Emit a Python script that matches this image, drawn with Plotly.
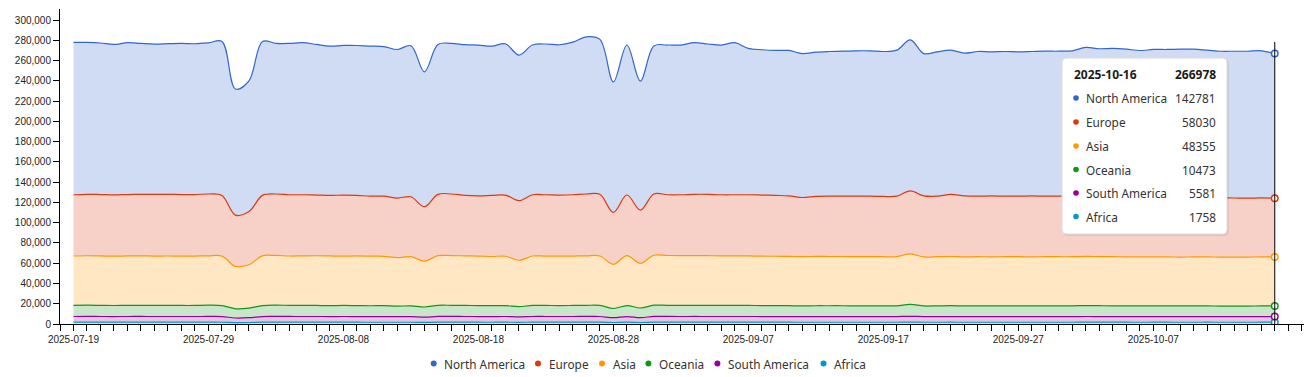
import numpy as np
import pandas as pd
import plotly.graph_objects as go

dates = pd.date_range("2025-07-19", periods=90, freq="D")

north_america = [150400,150000,149600,148500,149900,149100,148400,148700,149200,148900,
 149200,152000,124500,129000,152000,148700,149400,150100,148700,147400,
 147700,148000,148100,147700,146700,149100,133200,148000,148700,148800,
 148800,147400,149400,143800,147800,148800,148400,150700,155200,153000,
 128800,148100,127300,146200,147800,147800,149700,148400,147800,150100,
 144500,143500,143100,143500,142100,142500,142800,143100,143500,143500,
 143100,144100,149000,140500,142500,142400,140900,142800,142300,142800,
 142500,142600,143100,143100,143500,146600,145500,146100,145600,144600,
 145600,145800,146400,146600,145600,144800,144900,145000,145300,142781]

europe = [60500,60700,60600,60500,60600,60600,60900,60900,60800,60800,
 61000,60000,50700,52500,59700,60700,60500,60400,59900,59800,
 60300,59800,59300,59400,58800,59100,53800,60600,60800,59700,
 59500,60300,60400,58800,60500,60600,60300,60500,61000,60900,
 51300,59900,52600,60500,60000,60100,60500,60600,60300,60300,
 60400,60300,60100,59800,58400,59200,59600,59600,59700,59700,
 59500,59700,62200,60300,59800,61300,60200,59800,60100,59800,
 59800,60100,59800,59800,59800,59800,59700,59500,59400,59200,
 59100,59000,58800,58500,58500,58400,58300,58200,58200,58030]

asia = [48700,48800,48800,48700,48800,48900,48800,48700,48700,48700,
 48800,48800,41800,42900,49100,49100,48700,48800,49100,49000,
 48700,49000,48900,48800,47900,48600,45200,49000,49100,49000,
 48900,48600,48700,45700,48800,48700,48800,48800,48900,48800,
 43600,49300,44100,49300,49200,49200,49100,49000,49000,49000,
 48900,48800,48700,48700,48600,48700,48600,48600,48600,48600,
 48500,48600,49900,48400,48500,48600,48500,48500,48500,48500,
 48500,48500,48500,48500,48500,48500,48500,48500,48400,48400,
 48500,48400,48300,48400,48400,48400,48400,48400,48400,48355]

oceania = [11000,11100,11000,10900,11000,11000,10900,11000,10900,10900,
 11100,10800,9100,9400,10800,11100,11000,11000,10900,10800,
 10900,10800,10700,10700,10400,10600,10000,11000,11000,10900,
 10800,10700,10800,10200,10900,10900,10800,10900,11000,10900,
 9100,10800,9500,11100,11000,10900,11000,11000,10900,10900,
 10900,10800,10800,10700,10600,10700,10700,10700,10600,10600,
 10600,10600,11700,10500,10600,10700,10500,10600,10500,10600,
 10600,10500,10600,10600,10600,10800,10700,10600,10600,10500,
 10500,10500,10500,10500,10500,10400,10400,10400,10500,10473]

south_america = [5650,5680,5650,5620,5650,5660,5640,5650,5630,5640,
 5670,5600,4500,4700,5620,5680,5660,5650,5630,5610,
 5630,5610,5590,5600,5500,5560,5200,5660,5670,5640,
 5620,5600,5630,5350,5640,5650,5630,5640,5670,5650,
 4700,5620,4800,5680,5660,5640,5660,5650,5640,5640,
 5640,5620,5610,5600,5560,5590,5590,5590,5580,5580,
 5580,5590,5800,5560,5580,5600,5560,5580,5570,5580,
 5580,5570,5580,5580,5580,5620,5600,5590,5590,5570,
 5580,5580,5570,5570,5580,5560,5560,5560,5570,5581]

africa = [1770,1780,1770,1760,1770,1770,1770,1770,1760,1760,
 1780,1750,1420,1500,1760,1780,1770,1770,1760,1760,
 1760,1760,1750,1750,1720,1740,1600,1770,1780,1770,
 1760,1750,1760,1680,1770,1770,1760,1770,1780,1770,
 1500,1760,1500,1780,1770,1770,1770,1770,1770,1770,
 1770,1760,1760,1760,1740,1750,1750,1750,1750,1750,
 1750,1750,1820,1740,1750,1760,1740,1750,1750,1750,
 1750,1750,1750,1750,1750,1770,1760,1760,1760,1750,
 1760,1760,1750,1750,1760,1750,1750,1750,1760,1758]

series_names = ["North America", "Europe", "Asia", "Oceania", "South America", "Africa"]
series_values = [north_america, europe, asia, oceania, south_america, africa]
colors = ["#3366cc", "#dc3912", "#ff9900", "#109618", "#990099", "#0099c6"]

def rgba(hexc, a):
    h = hexc.lstrip("#")
    return f"rgba({int(h[0:2],16)},{int(h[2:4],16)},{int(h[4:6],16)},{a})"

FONT = "Noto Sans"
TICKFONT = "Liberation Sans, Arial"
fig = go.Figure()

# stacked areas (bottom series first)
for name, vals, col in reversed(list(zip(series_names, series_values, colors))):
    fig.add_trace(go.Scatter(
        x=dates, y=vals, name=name, stackgroup="one", mode="lines",
        line=dict(color=col, width=1.2, shape="spline", smoothing=1),
        fillcolor=rgba(col, 0.23), showlegend=False, hoverinfo="skip"))

# hollow markers on the stacked boundaries at the last date
last_vals = np.array([v[-1] for v in reversed(series_values)])
cum = np.cumsum(last_vals)
for yv, col in zip(cum, list(reversed(colors))):
    fig.add_trace(go.Scatter(
        x=[dates[-1]], y=[yv], mode="markers", showlegend=False, hoverinfo="skip",
        marker=dict(size=6.5, color="white", line=dict(color=col, width=1.5))))

# pixel -> paper helpers (plot area: left 60, width 1244, top 9, height 315)
L, W, T, H = 60, 1244, 9, 315
def px(x): return (x - L) / W
def py(y): return (T + H - y) / H

shapes = []
annotations = []

# crosshair at the hovered date
shapes.append(dict(type="line", xref="x", yref="paper", x0=dates[-1], x1=dates[-1],
                   y0=0, y1=py(42), line=dict(color="black", width=1), layer="above"))

def rounded(x0, y0, x1, y1, r=4):
    rx, ry = r / W, r / H
    X0, X1 = px(x0), px(x1)
    Y0, Y1 = py(y0), py(y1)
    return (f"M {X0+rx},{Y0} L {X1-rx},{Y0} Q {X1},{Y0} {X1},{Y0-ry} "
            f"L {X1},{Y1+ry} Q {X1},{Y1} {X1-rx},{Y1} L {X0+rx},{Y1} "
            f"Q {X0},{Y1} {X0},{Y1+ry} L {X0},{Y0-ry} Q {X0},{Y0} {X0+rx},{Y0} Z")

# tooltip box
shapes.append(dict(type="path", xref="paper", yref="paper", path=rounded(1063, 59, 1229, 236, 5),
                   fillcolor="rgba(0,0,0,0.07)", line=dict(width=0), layer="above"))
shapes.append(dict(type="path", xref="paper", yref="paper", path=rounded(1062, 58, 1227, 234, 4),
                   fillcolor="white", line=dict(color="#dcdcdc", width=1), layer="above"))

last_date = dates[-1].strftime("%Y-%m-%d")
total = int(sum(v[-1] for v in series_values))
annotations.append(dict(xref="paper", yref="paper", x=px(1072), y=py(74), text=f"<b>{last_date}</b>",
                        showarrow=False, xanchor="left", yanchor="middle",
                        font=dict(family=FONT, size=12, color="#1a1a1a")))
annotations.append(dict(xref="paper", yref="paper", x=px(1218), y=py(74), text=f"<b>{total}</b>",
                        showarrow=False, xanchor="right", yanchor="middle",
                        font=dict(family=FONT, size=12, color="#1a1a1a")))
row_y = [98, 122, 146, 169.5, 193, 216.5]
for ry_, name, vals, col in zip(row_y, series_names, series_values, colors):
    shapes.append(dict(type="circle", xref="paper", yref="paper", xsizemode="pixel", ysizemode="pixel",
                       xanchor=px(1076), yanchor=py(ry_), x0=-2.8, x1=2.8, y0=-2.8, y1=2.8,
                       fillcolor=col, line=dict(width=0), layer="above"))
    annotations.append(dict(xref="paper", yref="paper", x=px(1084), y=py(ry_), text=name,
                            showarrow=False, xanchor="left", yanchor="middle",
                            font=dict(family=FONT, size=11.8, color="#333")))
    annotations.append(dict(xref="paper", yref="paper", x=px(1218), y=py(ry_), text=str(vals[-1]),
                            showarrow=False, xanchor="right", yanchor="middle",
                            font=dict(family=FONT, size=11.8, color="#333")))

# legend (dot + label) below the axis
legend_dot_x = [433.7, 538.0, 602.0, 648.4, 717.4, 823.5]
LEGEND_Y = 363.5
for lx, name, col in zip(legend_dot_x, series_names, colors):
    shapes.append(dict(type="circle", xref="paper", yref="paper", xsizemode="pixel", ysizemode="pixel",
                       xanchor=px(lx), yanchor=py(LEGEND_Y), x0=-3, x1=3, y0=-3, y1=3,
                       fillcolor=col, line=dict(width=0), layer="above"))
    annotations.append(dict(xref="paper", yref="paper", x=px(lx + 8.5), y=py(LEGEND_Y), text=name,
                            showarrow=False, xanchor="left", yanchor="middle",
                            font=dict(family=FONT, size=11.8, color="#333")))

fig.update_layout(
    width=1311, height=377,
    margin=dict(l=L, r=1311 - L - W, t=T, b=377 - T - H, autoexpand=False),
    paper_bgcolor="white", plot_bgcolor="white",
    font=dict(family=TICKFONT, size=10, color="#222"),
    showlegend=False,
    shapes=shapes, annotations=annotations, hovermode=False,
)

fig.update_xaxes(
    type="date", range=["2025-07-18 00:00", "2025-10-18 04:00"], automargin=False,
    tickmode="linear", tick0="2025-07-19", dtick=10 * 86400000, tickformat="%Y-%m-%d",
    ticks="outside", ticklen=6, tickcolor="black", showline=True, linecolor="black", linewidth=1,
    showgrid=False, zeroline=False,
    minor=dict(tick0="2025-07-19", dtick=86400000, ticks="outside", ticklen=6, tickcolor="black", showgrid=False),
    tickfont=dict(family=TICKFONT, size=10, color="#222"),
)
fig.update_yaxes(
    range=[0, 311000], automargin=False, tickmode="linear", tick0=0, dtick=20000, tickformat=",",
    ticks="outside", ticklen=6, tickcolor="black", showline=True, linecolor="black", linewidth=1,
    showgrid=False, zeroline=False,
    tickfont=dict(family=TICKFONT, size=10, color="#222"),
)

fig.write_html("out.html", config={"displayModeBar": False},
               post_script="document.body.style.margin='0';document.body.style.overflow='hidden';")
